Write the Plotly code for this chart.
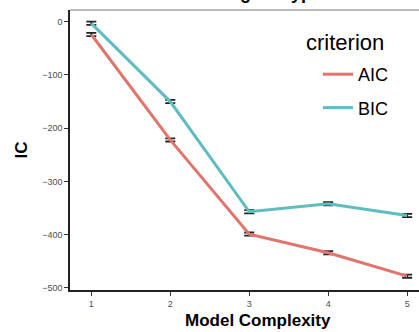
import plotly.graph_objects as go

complexity = [1, 2, 3, 4, 5]
aic = [-24, -222, -399, -434, -478]
bic = [-3, -150, -357, -342, -364]
aic_err = [3, 3, 3, 3, 3]
bic_err = [3, 3, 3, 3, 3]
x_ticks = [1, 2, 3, 4, 5]
y_ticks = [0, -100, -200, -300, -400, -500]

fig = go.Figure()
for name, vals, err, col in [("AIC", aic, aic_err, "#E2746B"), ("BIC", bic, bic_err, "#5DBDC1")]:
    fig.add_trace(go.Scatter(
        x=complexity, y=vals, mode="lines", name=name, legendgroup=name,
        line=dict(color=col, width=3),
        error_y=dict(type="data", array=err, color="#222222", thickness=1.8, width=5),
    ))

fig.add_annotation(text="<b>Ranking of Hypotheses</b>", xref="paper", yref="paper",
                   x=0.31, y=1.06, xanchor="left", yanchor="middle", showarrow=False,
                   font=dict(family="Liberation Sans", size=18, color="black"))

fig.add_annotation(text="criterion", xref="paper", yref="paper",
                   x=(304 - 70) / 349, y=(290 - 42) / 280, xanchor="left", yanchor="middle",
                   showarrow=False,
                   font=dict(family="Liberation Sans", size=22, color="black"))

fig.add_annotation(text="<b>Model Complexity</b>", xref="paper", yref="paper",
                   x=(258 - 70) / 349, y=-(320 - 290) / 280, xanchor="center", yanchor="middle",
                   showarrow=False,
                   font=dict(family="Liberation Sans", size=17, color="black"))

fig.add_shape(type="line", xref="paper", yref="paper", x0=0, x1=1, y0=1, y1=1,
              line=dict(color="#777777", width=1))

fig.update_layout(
    width=419, height=332,
    margin=dict(l=70, r=0, t=10, b=42),
    paper_bgcolor="white", plot_bgcolor="white",
    showlegend=True,
    legend=dict(
        font=dict(family="Liberation Sans", size=18, color="black"),
        x=(318 - 70) / 349, y=(290 - 56) / 280, xanchor="left", yanchor="top",
        bgcolor="rgba(0,0,0,0)", itemwidth=30, traceorder="grouped", tracegroupgap=7,
    ),
    xaxis=dict(
        range=[0.73, 5.15], tickvals=x_ticks, ticktext=[str(t) for t in x_ticks],
        showgrid=False, zeroline=False, showline=True, linecolor="#222222", linewidth=1.5,
        ticks="outside", ticklen=4, tickcolor="#333333",
        tickfont=dict(family="Liberation Sans", size=9, color="#4d4d4d"),
    ),
    yaxis=dict(
        range=[-504, 22], tickvals=y_ticks, ticktext=["0", "−100", "−200", "−300", "−400", "−500"],
        showgrid=False, zeroline=False, showline=True, linecolor="#222222", linewidth=1.5,
        ticks="outside", ticklen=4, tickcolor="#333333",
        tickfont=dict(family="Liberation Sans", size=9, color="#4d4d4d"),
        title=dict(text="<b>IC</b>", standoff=10,
                   font=dict(family="Liberation Sans", size=17, color="black")),
    ),
)

fig.write_html("out.html", config={"displayModeBar": False},
               post_script="document.body.style.margin='0';document.body.style.overflow='hidden';")
